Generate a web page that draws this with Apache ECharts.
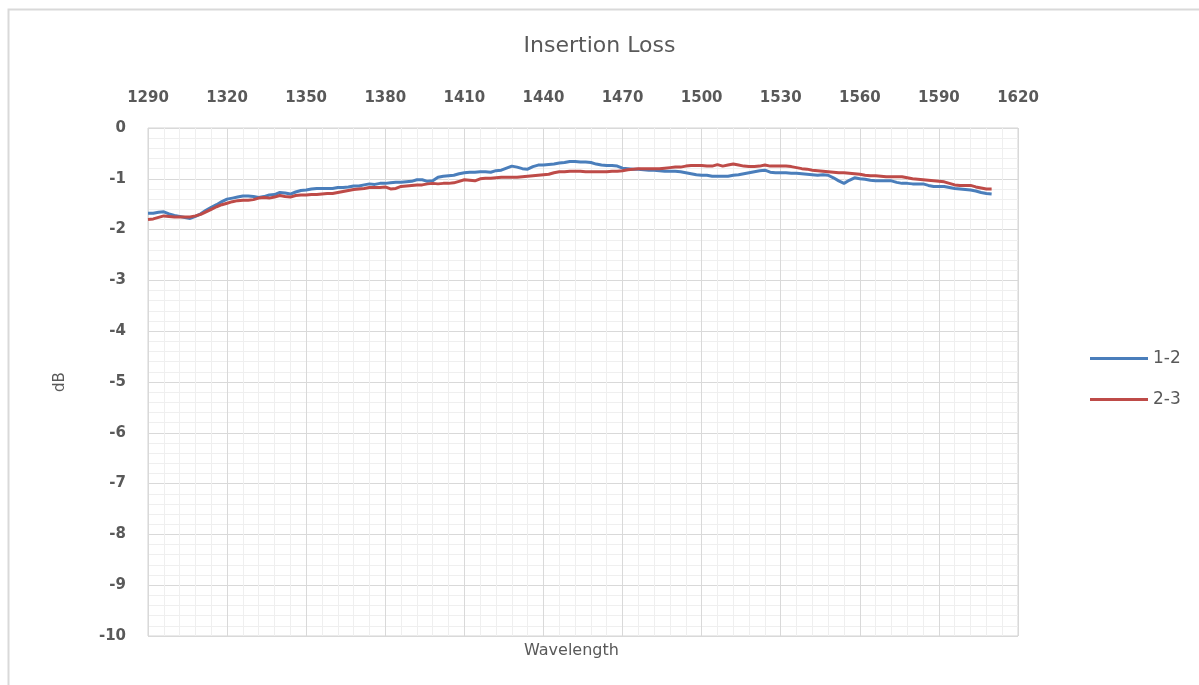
<!DOCTYPE html>
<html>
<head>
<meta charset="utf-8">
<script src="https://cdn.jsdelivr.net/npm/echarts@6/dist/echarts.min.js"></script>
<style>
html,body{margin:0;padding:0;background:#fff;}
#chart{width:1199px;height:685px;}
</style>
</head>
<body>
<div id="chart"></div>
<script>
const titleText = 'Insertion Loss';
const xAxisName = 'Wavelength';
const yAxisName = 'dB';
const seriesNames = ['1-2', '2-3'];
const xTicks = [1290, 1320, 1350, 1380, 1410, 1440, 1470, 1500, 1530, 1560, 1590, 1620];
const yTicks = [0, -1, -2, -3, -4, -5, -6, -7, -8, -9, -10];

const wavelengths = [
1290,1292,1294,1296,1298,1300,1302,1304,1306,1308,1310,1312,1314,1316,1318,1320,1322,1324,1326,1328,
1330,1332,1334,1336,1338,1340,1342,1344,1346,1348,1350,1352,1354,1356,1358,1360,1362,1364,1366,1368,
1370,1372,1374,1376,1378,1380,1382,1384,1386,1388,1390,1392,1394,1396,1398,1400,1402,1404,1406,1408,
1410,1412,1414,1416,1418,1420,1422,1424,1426,1428,1430,1432,1434,1436,1438,1440,1442,1444,1446,1448,
1450,1452,1454,1456,1458,1460,1462,1464,1466,1468,1470,1472,1474,1476,1478,1480,1482,1484,1486,1488,
1490,1492,1494,1496,1498,1500,1502,1504,1506,1508,1510,1512,1514,1516,1518,1520,1522,1524,1526,1528,
1530,1532,1534,1536,1538,1540,1542,1544,1546,1548,1550,1552,1554,1556,1558,1560,1562,1564,1566,1568,
1570,1572,1574,1576,1578,1580,1582,1584,1586,1588,1590,1592,1594,1596,1598,1600,1602,1604,1606,1608,
1610];

const loss12 = [
-1.68,-1.68,-1.66,-1.65,-1.69,-1.72,-1.74,-1.76,-1.78,-1.74,-1.69,-1.62,-1.56,-1.51,-1.45,-1.40,-1.38,-1.36,-1.34,-1.34,
-1.35,-1.37,-1.35,-1.32,-1.31,-1.27,-1.28,-1.30,-1.26,-1.23,-1.22,-1.20,-1.19,-1.19,-1.19,-1.19,-1.17,-1.17,-1.16,-1.14,
-1.14,-1.12,-1.10,-1.11,-1.09,-1.09,-1.08,-1.07,-1.07,-1.06,-1.05,-1.02,-1.02,-1.05,-1.04,-0.97,-0.95,-0.94,-0.93,-0.90,
-0.88,-0.87,-0.87,-0.86,-0.86,-0.87,-0.84,-0.83,-0.79,-0.75,-0.77,-0.80,-0.81,-0.76,-0.73,-0.73,-0.72,-0.71,-0.69,-0.68,
-0.66,-0.66,-0.67,-0.67,-0.68,-0.71,-0.73,-0.74,-0.74,-0.75,-0.79,-0.80,-0.81,-0.81,-0.82,-0.83,-0.83,-0.84,-0.85,-0.85,
-0.85,-0.86,-0.88,-0.90,-0.92,-0.93,-0.93,-0.95,-0.95,-0.95,-0.95,-0.93,-0.92,-0.90,-0.88,-0.86,-0.84,-0.83,-0.87,-0.88,
-0.88,-0.88,-0.89,-0.89,-0.90,-0.91,-0.92,-0.93,-0.92,-0.93,-0.98,-1.04,-1.09,-1.03,-0.98,-1.00,-1.01,-1.03,-1.04,-1.04,
-1.04,-1.04,-1.07,-1.09,-1.09,-1.10,-1.10,-1.10,-1.13,-1.15,-1.15,-1.15,-1.17,-1.19,-1.20,-1.21,-1.22,-1.24,-1.27,-1.29,
-1.30];

const loss23 = [
-1.80,-1.79,-1.76,-1.73,-1.74,-1.75,-1.75,-1.75,-1.75,-1.73,-1.70,-1.65,-1.60,-1.55,-1.51,-1.48,-1.45,-1.43,-1.42,-1.42,
-1.41,-1.38,-1.37,-1.38,-1.36,-1.33,-1.35,-1.36,-1.33,-1.32,-1.32,-1.31,-1.31,-1.30,-1.29,-1.29,-1.27,-1.25,-1.23,-1.21,
-1.20,-1.19,-1.17,-1.17,-1.17,-1.16,-1.20,-1.19,-1.15,-1.14,-1.13,-1.12,-1.12,-1.10,-1.09,-1.10,-1.09,-1.09,-1.08,-1.05,
-1.02,-1.03,-1.04,-1.00,-0.99,-0.99,-0.98,-0.97,-0.97,-0.97,-0.97,-0.96,-0.95,-0.94,-0.93,-0.92,-0.91,-0.88,-0.86,-0.86,
-0.85,-0.85,-0.85,-0.86,-0.86,-0.86,-0.86,-0.86,-0.85,-0.85,-0.84,-0.82,-0.81,-0.80,-0.80,-0.80,-0.80,-0.80,-0.79,-0.78,
-0.77,-0.77,-0.75,-0.74,-0.74,-0.74,-0.75,-0.75,-0.72,-0.75,-0.73,-0.71,-0.73,-0.75,-0.76,-0.76,-0.75,-0.73,-0.75,-0.75,
-0.75,-0.75,-0.76,-0.78,-0.80,-0.81,-0.83,-0.84,-0.85,-0.86,-0.87,-0.88,-0.88,-0.89,-0.90,-0.91,-0.93,-0.94,-0.94,-0.95,
-0.96,-0.96,-0.96,-0.96,-0.98,-1.00,-1.01,-1.02,-1.03,-1.04,-1.05,-1.06,-1.09,-1.12,-1.13,-1.13,-1.13,-1.16,-1.18,-1.20,
-1.20];

const colors = ['#4a7ebb', '#be4b48'];

const chart = echarts.init(document.getElementById('chart'), null, {renderer: 'canvas'});
const pair = (arr) => wavelengths.map((w, i) => [w, arr[i]]);
const labelFont = {color: '#595959', fontFamily: 'DejaVu Sans', fontSize: 15, fontWeight: 'bold'};

chart.setOption({
  animation: false,
  backgroundColor: '#ffffff',
  title: {
    text: titleText,
    left: 'center',
    top: 30,
    textStyle: {color: '#595959', fontFamily: 'DejaVu Sans', fontSize: 22, fontWeight: 'normal'}
  },
  legend: {
    orient: 'vertical',
    left: 1085,
    top: 345,
    icon: 'rect',
    itemWidth: 58,
    itemHeight: 3,
    itemGap: 24,
    data: seriesNames,
    textStyle: {color: '#595959', fontFamily: 'DejaVu Sans', fontSize: 17}
  },
  grid: {
    left: 148, right: 181, top: 128, bottom: 49,
    show: true, borderColor: '#d4d4d4', borderWidth: 1
  },
  xAxis: {
    type: 'value',
    position: 'top',
    min: xTicks[0],
    max: xTicks[xTicks.length - 1],
    interval: 30,
    axisLine: {show: false},
    axisTick: {show: false},
    axisLabel: Object.assign({margin: 22, formatter: (v) => String(v)}, labelFont),
    splitLine: {show: true, lineStyle: {color: '#d9d9d9', width: 1}},
    minorTick: {show: false, splitNumber: 5},
    minorSplitLine: {show: true, lineStyle: {color: '#efefef', width: 1}}
  },
  yAxis: {
    type: 'value',
    min: yTicks[yTicks.length - 1],
    max: yTicks[0],
    interval: 1,
    name: yAxisName,
    nameLocation: 'middle',
    nameGap: 80,
    nameRotate: 90,
    nameTextStyle: {color: '#595959', fontFamily: 'DejaVu Sans', fontSize: 15},
    axisLine: {show: false},
    axisTick: {show: false},
    axisLabel: Object.assign({margin: 22, formatter: (v) => String(v)}, labelFont),
    splitLine: {show: true, lineStyle: {color: '#d9d9d9', width: 1}},
    minorTick: {show: false, splitNumber: 5},
    minorSplitLine: {show: true, lineStyle: {color: '#efefef', width: 1}}
  },
  graphic: [
    {type: 'rect', left: 6, top: 7, shape: {width: 1400, height: 1000}, style: {fill: 'none', stroke: '#d9d9d9', lineWidth: 2}, silent: true},
    {type: 'text', left: 524, top: 643, style: {text: xAxisName, fill: '#595959', font: '16px "DejaVu Sans"'}}
  ],
  series: [
    {name: seriesNames[0], type: 'line', data: pair(loss12), showSymbol: false, symbol: 'none', lineStyle: {color: colors[0], width: 3}, itemStyle: {color: colors[0]}},
    {name: seriesNames[1], type: 'line', data: pair(loss23), showSymbol: false, symbol: 'none', lineStyle: {color: colors[1], width: 3}, itemStyle: {color: colors[1]}}
  ]
});
</script>
</body>
</html>
